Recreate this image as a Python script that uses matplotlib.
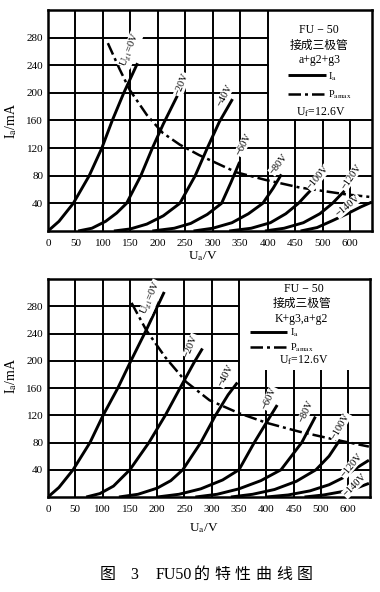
import matplotlib
matplotlib.use('Agg')
import matplotlib.pyplot as plt
from matplotlib.patches import Rectangle

plt.rcParams['font.family'] = ['Liberation Serif', 'Noto Sans CJK SC', 'DejaVu Sans']
plt.rcParams['mathtext.fontset'] = 'stix'

# ---------------- data ----------------
X_TICKS = [0, 50, 100, 150, 200, 250, 300, 350, 400, 450, 500, 550]
X_TICK_LABELS = ['0', '50', '100', '150', '200', '250', '300', '350', '400', '450', '500', '600']
Y_TICKS = [40, 80, 120, 160, 200, 240, 280]
CURVE_LABELS = [r'U$_{\rm g1}$=0V', '−20V', '−40V', '−60V', '−80V', '−100V', '−120V', '−140V']

# chart 1 : a+g2+g3
A_UA_0 = [0, 20, 46, 75, 98, 117, 138, 163]
A_IA_0 = [0, 14, 40, 80, 120, 160, 200, 243]
A_UA_20 = [55, 80, 105, 125, 143, 169, 190, 210, 235, 255]
A_IA_20 = [0, 4, 14, 26, 40, 80, 120, 155, 195, 222]
A_UA_40 = [120, 150, 180, 210, 240, 268, 290, 312, 336]
A_IA_40 = [0, 3, 10, 22, 40, 80, 120, 158, 191]
A_UA_60 = [190, 230, 260, 290, 316, 333, 349]
A_IA_60 = [0, 4, 11, 24, 40, 70, 100]
A_UA_80 = [265, 300, 335, 365, 391, 410, 425]
A_IA_80 = [0, 4, 12, 25, 40, 62, 82]
A_UA_100 = [330, 370, 405, 433, 456, 470, 482]
A_IA_100 = [0, 4, 12, 25, 40, 52, 62]
A_UA_120 = [395, 430, 465, 495, 518, 530, 540]
A_IA_120 = [0, 4, 12, 25, 40, 50, 58]
A_UA_140 = [460, 490, 518, 545, 570, 590]
A_IA_140 = [0, 5, 15, 25, 35, 42]
A_PMAX_UA = [109, 130, 149, 180, 209, 240, 275, 343, 396, 458, 543, 590]
A_PMAX_IA = [272, 235, 204, 168, 142, 125, 110, 85, 74, 63, 53, 49]

# chart 2 : K+g3, a+g2
B_UA_0 = [0, 20, 46, 77, 101, 128, 152, 180, 213]
B_IA_0 = [0, 14, 40, 80, 120, 160, 200, 245, 301]
B_UA_20 = [70, 95, 120, 150, 185, 215, 242, 268, 283]
B_IA_20 = [0, 5, 16, 40, 80, 120, 160, 198, 218]
B_UA_40 = [130, 165, 200, 225, 247, 280, 307, 330, 347]
B_IA_40 = [0, 4, 13, 24, 40, 80, 120, 150, 168]
B_UA_60 = [200, 240, 280, 320, 350, 378, 400, 420]
B_IA_60 = [0, 4, 12, 25, 40, 80, 109, 135]
B_UA_80 = [270, 310, 350, 390, 427, 465, 490]
B_IA_80 = [0, 4, 12, 24, 40, 80, 118]
B_UA_100 = [335, 375, 415, 455, 491, 515, 535]
B_IA_100 = [0, 4, 11, 23, 40, 60, 84]
B_UA_120 = [400, 440, 480, 515, 540, 560, 588]
B_IA_120 = [0, 3, 9, 18, 28, 40, 54]
B_UA_140 = [470, 505, 540, 565, 588]
B_IA_140 = [0, 3, 8, 13, 20]
B_PMAX_UA = [153, 180, 215, 253, 296, 350, 400, 460, 527, 588]
B_PMAX_IA = [285, 245, 205, 169, 142, 123, 109, 96, 84, 74]

A_CURVES = [(A_UA_0, A_IA_0), (A_UA_20, A_IA_20), (A_UA_40, A_IA_40), (A_UA_60, A_IA_60),
            (A_UA_80, A_IA_80), (A_UA_100, A_IA_100), (A_UA_120, A_IA_120), (A_UA_140, A_IA_140)]
B_CURVES = [(B_UA_0, B_IA_0), (B_UA_20, B_IA_20), (B_UA_40, B_IA_40), (B_UA_60, B_IA_60),
            (B_UA_80, B_IA_80), (B_UA_100, B_IA_100), (B_UA_120, B_IA_120), (B_UA_140, B_IA_140)]

# label placement (x, y, rotation) -- layout only
A_LABEL_POS = [(150, 262, 68), (244, 212, 68), (322, 197, 62), (356, 125, 62),
               (420, 97, 52), (492, 77, 50), (553, 79, 55), (546, 36, 40)]
B_LABEL_POS = [(190, 292, 66), (262, 222, 68), (325, 178, 62), (405, 145, 65),
               (473, 126, 65), (536, 104, 60), (556, 46, 50), (562, 17, 45)]

W, H = 380, 592
fig = plt.figure(figsize=(W / 100, H / 100), dpi=100)


def px_rect(l, r, t, b):
    return [l / W, 1 - b / H, (r - l) / W, (b - t) / H]


def draw_chart(ax, curves, pmax_ua, pmax_ia, label_pos, box, lines_txt, text_pos, leg_anchor, leg_spacing):
    ax.set_xlim(0, 590)
    ax.set_ylim(0, 320)
    ax.set_xticks(X_TICKS)
    ax.set_xticklabels(X_TICK_LABELS)
    ax.set_yticks(Y_TICKS)
    ax.tick_params(length=0, labelsize=8)
    ax.tick_params(axis='x', pad=6)
    ax.tick_params(axis='y', pad=3.5)
    ax.grid(True, color='black', lw=1.4)
    ax.set_axisbelow(True)
    for s in ax.spines.values():
        s.set_linewidth(1.8)
    ax.add_patch(Rectangle((box[0], box[1]), 600, 400, facecolor='white', edgecolor='none', zorder=1))
    first = None
    for (ua, ia) in curves:
        ln, = ax.plot(ua, ia, color='black', lw=2.1, zorder=3, solid_capstyle='butt',
                      solid_joinstyle='round')
        if first is None:
            first = ln
    pm, = ax.plot(pmax_ua, pmax_ia, color='black', lw=1.8, zorder=3,
                  dashes=(5, 1.6, 1.2, 1.6))
    for txt, (x, y, r) in zip(CURVE_LABELS, label_pos):
        ax.text(x, y, txt, rotation=r, ha='center', va='center', fontsize=7.5, zorder=4,
                rotation_mode='anchor',
                bbox=dict(facecolor='white', edgecolor='none', pad=0.3))
    for txt, (x, y) in zip(lines_txt, text_pos):
        ax.text(x, y, txt, ha='center', va='center', fontsize=8.5, zorder=4)
    ax.legend([first, pm], [r'I$_{\rm a}$', r'P$_{\rm amax}$'], loc='upper left',
              bbox_to_anchor=leg_anchor, bbox_transform=ax.transAxes, frameon=False,
              fontsize=7.5, handlelength=3.6, handletextpad=0.25, borderpad=0,
              borderaxespad=0, labelspacing=leg_spacing)


ax1 = fig.add_axes(px_rect(48, 372, 10, 231))
draw_chart(ax1, A_CURVES, A_PMAX_UA, A_PMAX_IA, A_LABEL_POS, (402, 162),
           ['FU − 50', '接成三极管', 'a+g2+g3', r'U$_{\rm f}$=12.6V'],
           [(493, 291), (494, 268), (494, 248), (496, 172)],
           (0.741, 0.728), 0.55)

ax2 = fig.add_axes(px_rect(48, 370, 279, 497))
draw_chart(ax2, B_CURVES, B_PMAX_UA, B_PMAX_IA, B_LABEL_POS, (352, 186),
           ['FU − 50', '接成三极管', 'K+g3,a+g2', r'U$_{\rm f}$=12.6V'],
           [(469, 306), (465, 284), (465, 262), (469, 201)],
           (0.627, 0.78), 0.2)

fig.text(203 / W, 1 - 256 / H, r'U$_{\rm a}$/V', ha='center', va='center', fontsize=9.5)
fig.text(204 / W, 1 - 528 / H, r'U$_{\rm a}$/V', ha='center', va='center', fontsize=9.5)
fig.text(11 / W, 1 - 121 / H, r'I$_{\rm a}$/mA', ha='center', va='center', fontsize=10, rotation=90)
fig.text(11 / W, 1 - 376 / H, r'I$_{\rm a}$/mA', ha='center', va='center', fontsize=10, rotation=90)

# caption, laid out piece by piece to mimic the wide letter spacing
CAPTION_PIECES = ['图', '3', 'FU50', '的', '特', '性', '曲', '线', '图']
CAPTION_X = [108, 134, 174, 202, 222.5, 243, 263.5, 284, 304.5]
for t, x in zip(CAPTION_PIECES, CAPTION_X):
    fig.text(x / W, 1 - 575 / H, t, ha='center', va='center', fontsize=11.5)

fig.savefig('out.png', dpi=100)
